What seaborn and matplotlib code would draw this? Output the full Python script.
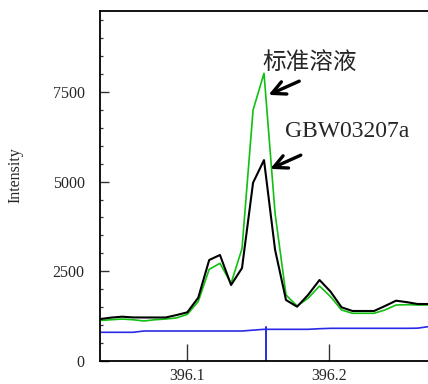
import numpy as np
import pandas as pd
import matplotlib
matplotlib.use("Agg")
import matplotlib.pyplot as plt
import seaborn as sns

# ---- data ----
wavelength = [396.0389, 396.0466, 396.0542, 396.0620, 396.0696, 396.0773, 396.0849,
              396.0925, 396.1002, 396.1079, 396.1156, 396.1232, 396.1310, 396.1387,
              396.1465, 396.1542, 396.1620, 396.1697, 396.1775, 396.1852, 396.1933,
              396.2011, 396.2088, 396.2165, 396.2239, 396.2317, 396.2394, 396.2472,
              396.2549, 396.2623, 396.2697]
sample_gbw = [1170, 1210, 1235, 1215, 1213, 1213, 1213, 1280, 1357, 1765, 2815,
              2955, 2118, 2590, 4970, 5600, 3100, 1700, 1514, 1840, 2258, 1932,
              1497, 1394, 1394, 1394, 1533, 1681, 1640, 1589, 1589]
standard = [1130, 1150, 1170, 1150, 1115, 1150, 1170, 1200, 1300, 1660, 2555,
            2723, 2165, 3130, 6995, 8020, 4117, 1840, 1533, 1748, 2090, 1793,
            1422, 1330, 1330, 1330, 1422, 1560, 1570, 1561, 1561]
background = [800, 800, 800, 800, 836, 836, 836, 836, 836, 836, 836, 836, 836, 836,
              860, 883, 883, 883, 883, 883, 900, 911, 911, 911, 911, 911, 911, 911,
              911, 915, 956]
peak_marker_x = [396.1553, 396.1553]
peak_marker_y = [0, 960]

label_std = "标准溶液"
label_gbw = "GBW03207a"
y_label = "Intensity"
y_major = [0, 2500, 5000, 7500]
x_major = [396.1, 396.2]
x_tick_labels = ["396.1", "396.2"]

df = pd.DataFrame({"wl": wavelength, "gbw": sample_gbw, "std": standard, "bg": background})
df_mark = pd.DataFrame({"wl": peak_marker_x, "v": peak_marker_y})

# ---- style ----
sns.set_style("ticks")
plt.rcParams["font.family"] = ["Liberation Serif", "Noto Sans CJK SC", "DejaVu Sans"]

fig = plt.figure(figsize=(4.28, 3.84), dpi=100)
ax = fig.add_axes([100 / 428, 23 / 384, 1 - 100 / 428, (361 - 10.5) / 384])

sns.lineplot(data=df, x="wl", y="bg", ax=ax, color="#2a2ae6", lw=1.2, sort=False, estimator=None)
sns.lineplot(data=df_mark, x="wl", y="v", ax=ax, color="#2a2ae6", lw=1.4, sort=False, estimator=None)
sns.lineplot(data=df, x="wl", y="std", ax=ax, color="#10c010", lw=1.2, sort=False, estimator=None)
sns.lineplot(data=df, x="wl", y="gbw", ax=ax, color="black", lw=1.5, sort=False, estimator=None)

ax.set_xlim(396.0387, 396.2697)
ax.set_ylim(0, 9770)

ax.set_yticks(y_major)
ax.set_yticks(np.arange(500, 9770, 500), minor=True)
ax.set_xticks(x_major)
ax.set_xticklabels(x_tick_labels)

ax.tick_params(axis="y", which="major", direction="in", length=6.5, width=1.0,
               color="#333333", labelsize=11.5, pad=11)
ax.tick_params(axis="y", which="minor", direction="in", length=2.2, width=0.9, color="#333333")
ax.tick_params(axis="x", which="major", direction="in", length=12.5, width=1.0,
               color="#333333", labelsize=11.5, pad=5)
ax.tick_params(axis="x", which="minor", length=0)

for s in ["left", "bottom", "top"]:
    ax.spines[s].set_linewidth(1.3)
    ax.spines[s].set_color("black")
ax.spines["right"].set_visible(False)

ax.set_xlabel("")
ax.set_ylabel(y_label, fontsize=11.5, labelpad=0)
ax.yaxis.set_label_coords(-77 / 328, 0.53)

ax.text(396.1528, 8333, label_std, fontsize=17, va="center", ha="left",
        family=["Noto Sans CJK SC", "DejaVu Sans"])
ax.text(396.1690, 6397, label_gbw, fontsize=17, va="center", ha="left")

arrow = dict(arrowstyle="->", lw=2.4, color="black", mutation_scale=24)
ax.annotate("", xy=(396.1556, 7386), xytext=(396.1808, 7832), arrowprops=arrow)
ax.annotate("", xy=(396.1568, 5323), xytext=(396.1819, 5769), arrowprops=arrow)

fig.savefig("out.png", dpi=100)
